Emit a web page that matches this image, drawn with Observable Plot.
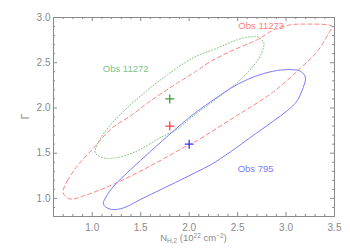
<!DOCTYPE html>
<html><head><meta charset="utf-8">
<script src="https://cdn.jsdelivr.net/npm/d3@7"></script>
<script src="https://cdn.jsdelivr.net/npm/@observablehq/plot@0.6"></script>
<style>body{margin:0;background:#fff} svg{display:block}</style>
</head><body><div id="chart"></div>
<script>
// Axis ticks
const xTicksMajor = [1.0, 1.5, 2.0, 2.5, 3.0, 3.5];
const xTicksMinor = [0.7, 0.8, 0.9, 1.1, 1.2, 1.3, 1.4, 1.6, 1.7, 1.8, 1.9, 2.1, 2.2, 2.3, 2.4, 2.6, 2.7, 2.8, 2.9, 3.1, 3.2, 3.3, 3.4];
const yTicksMajor = [1.0, 1.5, 2.0, 2.5, 3.0];
const yTicksMinor = [0.9, 1.1, 1.2, 1.3, 1.4, 1.6, 1.7, 1.8, 1.9, 2.1, 2.2, 2.3, 2.4, 2.6, 2.7, 2.8, 2.9];

// Confidence contours [NH2, Gamma]
const obs11273 = [[0.699,1.085],[0.744,1.196],[0.847,1.361],[1.019,1.563],[1.191,1.767],[1.397,1.914],[1.603,2.080],[1.878,2.275],[2.067,2.403],[2.222,2.514],[2.462,2.643],[2.703,2.754],[2.874,2.864],[3.046,2.919],[3.219,2.927],[3.425,2.919],[3.476,2.901],[3.441,2.828],[3.322,2.624],[3.149,2.441],[2.874,2.182],[2.462,1.895],[2.049,1.619],[1.946,1.564],[1.603,1.361],[1.225,1.159],[0.915,1.030],[0.778,0.993],[0.709,1.038]];
const obs11272 = [[1.029,1.508],[1.054,1.601],[1.139,1.748],[1.276,1.914],[1.534,2.165],[1.775,2.367],[2.049,2.558],[2.291,2.662],[2.497,2.754],[2.634,2.787],[2.720,2.779],[2.771,2.717],[2.765,2.662],[2.720,2.551],[2.600,2.386],[2.428,2.220],[2.222,2.054],[2.015,1.888],[1.878,1.767],[1.706,1.674],[1.466,1.527],[1.260,1.453],[1.122,1.446]];
const obs795 = [[1.115,0.938],[1.139,1.011],[1.225,1.140],[1.397,1.320],[1.603,1.522],[1.843,1.750],[1.998,1.892],[2.085,1.964],[2.256,2.093],[2.428,2.218],[2.600,2.314],[2.771,2.381],[2.943,2.419],[3.080,2.422],[3.149,2.406],[3.191,2.361],[3.201,2.319],[3.177,2.227],[3.115,2.080],[3.012,1.969],[2.874,1.859],[2.737,1.754],[2.634,1.676],[2.428,1.516],[2.222,1.372],[2.067,1.287],[1.860,1.177],[1.534,1.008],[1.294,0.886],[1.173,0.885]];

// Best-fit positions
const bestNames = ["Obs 11272", "Obs 11273", "Obs 795"];
const bestX = [1.8, 1.8, 2.0];
const bestY = [2.1, 1.8, 1.6];

// Labels
const labelText = ["Obs 11272", "Obs 11273", "Obs 795"];
const labelX = [1.345, 2.744, 2.686];
const labelY = [2.43, 2.908, 1.325];

const lineColor = {"Obs 11272": "#7fc47f", "Obs 11273": "#ff8080", "Obs 795": "#7b7bff"};
const crossColor = {"Obs 11272": "#3a9e3a", "Obs 11273": "#ff4545", "Obs 795": "#3a3aff"};

const best = bestNames.map((n, i) => ({name: n, x: bestX[i], y: bestY[i]}));
const labels = labelText.map((t, i) => ({t, x: labelX[i], y: labelY[i]}));

const W = 350, H = 250, mL = 53, mR = 16, mT = 17, mB = 34;
const pW = W - mL - mR, pH = H - mT - mB;
const axisColor = "#8a8a8a";

const plusSymbol = {
  draw(ctx, size) {
    const r = Math.sqrt(size / Math.PI);
    ctx.moveTo(-r, 0); ctx.lineTo(r, 0);
    ctx.moveTo(0, -r); ctx.lineTo(0, r);
  }
};

const plot = Plot.plot({
  width: W, height: H,
  marginLeft: mL, marginRight: mR, marginTop: mT, marginBottom: mB,
  style: {fontFamily: "Liberation Sans, Arial, sans-serif", background: "#fff"},
  x: {domain: [0.6, 3.5]},
  y: {domain: [0.8, 3.0]},
  marks: [
    Plot.line(obs11272, {x: d => d[0], y: d => d[1], curve: "catmull-rom-closed", stroke: lineColor["Obs 11272"], strokeWidth: 1, strokeDasharray: "1,2"}),
    Plot.line(obs11273, {x: d => d[0], y: d => d[1], curve: "catmull-rom-closed", stroke: lineColor["Obs 11273"], strokeWidth: 1, strokeDasharray: "4,3"}),
    Plot.line(obs795, {x: d => d[0], y: d => d[1], curve: "catmull-rom-closed", stroke: lineColor["Obs 795"], strokeWidth: 1}),
    Plot.dot(best, {x: "x", y: "y", r: 4.5, symbol: plusSymbol, fill: "none", stroke: d => crossColor[d.name], strokeWidth: 1.3}),
    Plot.text(labels, {x: "x", y: "y", text: "t", fill: d => lineColor[d.t], fontSize: 9.5}),
    Plot.frame({stroke: axisColor}),
    // inward ticks on all four sides
    Plot.tickX(xTicksMajor, {x: d => d, stroke: axisColor, insetTop: pH - 4}),
    Plot.tickX(xTicksMajor, {x: d => d, stroke: axisColor, insetBottom: pH - 4}),
    Plot.tickX(xTicksMinor, {x: d => d, stroke: axisColor, insetTop: pH - 2}),
    Plot.tickX(xTicksMinor, {x: d => d, stroke: axisColor, insetBottom: pH - 2}),
    Plot.tickY(yTicksMajor, {y: d => d, stroke: axisColor, insetRight: pW - 4}),
    Plot.tickY(yTicksMajor, {y: d => d, stroke: axisColor, insetLeft: pW - 4}),
    Plot.tickY(yTicksMinor, {y: d => d, stroke: axisColor, insetRight: pW - 2}),
    Plot.tickY(yTicksMinor, {y: d => d, stroke: axisColor, insetLeft: pW - 2}),
    Plot.axisX({ticks: xTicksMajor, tickSize: 0, tickPadding: 7, tickFormat: d => d.toFixed(1), fill: axisColor, fontSize: 10, label: null}),
    Plot.axisY({ticks: yTicksMajor, tickSize: 0, tickPadding: 3, tickFormat: d => d.toFixed(1), fill: axisColor, fontSize: 10, label: null})
  ]
});

const svg = d3.select(plot);
// x-axis title
const xt = svg.append("text")
  .attr("x", mL + pW / 2).attr("y", 241)
  .attr("text-anchor", "middle")
  .attr("fill", axisColor).attr("font-size", 9.5);
xt.append("tspan").text("N");
xt.append("tspan").attr("font-size", 6.5).attr("dy", 2).text("H,2");
xt.append("tspan").attr("dy", -2).text(" (10");
xt.append("tspan").attr("font-size", 6.5).attr("dy", -3.5).text("22");
xt.append("tspan").attr("dy", 3.5).text(" cm");
xt.append("tspan").attr("font-size", 6.5).attr("dy", -3.5).text("−2");
xt.append("tspan").attr("dy", 3.5).text(")");
// y-axis title
svg.append("text")
  .attr("transform", `translate(25.5,${mT + pH / 2}) rotate(-90)`)
  .attr("text-anchor", "middle").attr("dy", "0.35em")
  .attr("fill", axisColor).attr("font-size", 10)
  .text("Γ");

document.getElementById("chart").appendChild(plot);
</script>
</body></html>
